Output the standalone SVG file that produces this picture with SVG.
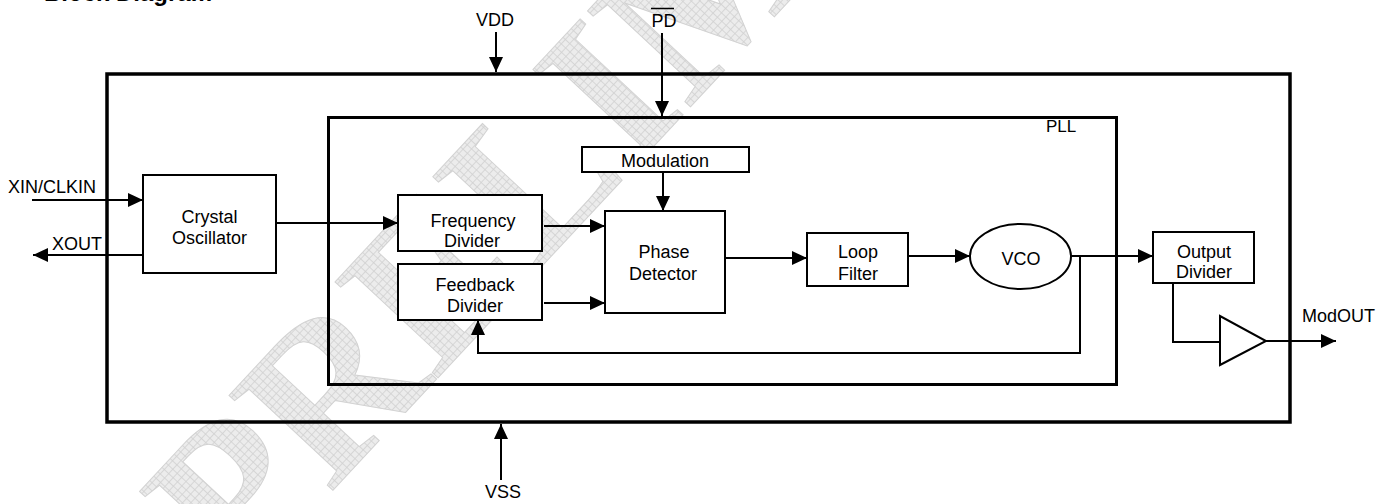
<svg xmlns="http://www.w3.org/2000/svg" width="1392" height="504" viewBox="0 0 1392 504">
<style>
text{font-family:"Liberation Sans",Arial,sans-serif;font-size:18px;fill:#000;}
.lbl{text-anchor:middle;}
.box{fill:#fff;stroke:#000;stroke-width:2;}
.frame{fill:none;stroke:#000;}
.wire{fill:none;stroke:#000;stroke-width:2;}
.wm{font-family:"Liberation Serif","Times New Roman",serif;font-weight:bold;font-size:215px;fill:url(#hatch);stroke:#d2d2d2;stroke-width:1;}
</style>
<defs>
<pattern id="hatch" width="6" height="6" patternUnits="userSpaceOnUse">
<rect width="6" height="6" fill="#ececec"/>
<path d="M0,0.5H6M0.5,0V6" stroke="#d0d0d0" stroke-width="0.8"/>
</pattern>
<marker id="arr" markerUnits="userSpaceOnUse" markerWidth="15" markerHeight="14" refX="15" refY="7" orient="auto">
<path d="M0,0L15,7L0,14z" fill="#000"/>
</marker>
</defs>
<rect width="1392" height="504" fill="#fff"/>
<text x="44" y="1" style="font-weight:bold;font-size:24px">Block Diagram</text>
<g id="watermark"><text class="wm" transform="translate(240,590) rotate(-47)">PRELIMINARY</text></g>

<g id="chip"><rect class="frame" x="107" y="74" width="1183" height="348" stroke-width="3.5"/></g>
<g id="pll"><rect class="frame" x="328.5" y="117.5" width="788" height="267" stroke-width="3"/>
<text x="1046" y="131.5" style="font-size:17px">PLL</text></g>

<g id="connectors">
<line class="wire" x1="496" y1="32" x2="496" y2="72" marker-end="url(#arr)"/>
<line class="wire" x1="662" y1="33" x2="662" y2="116" marker-end="url(#arr)"/>
<line class="wire" x1="501" y1="480" x2="501" y2="424" marker-end="url(#arr)"/>
<line class="wire" x1="32" y1="200" x2="143" y2="200" marker-end="url(#arr)"/>
<line class="wire" x1="143" y1="255" x2="33" y2="255" marker-end="url(#arr)"/>
<line class="wire" x1="276" y1="223" x2="398" y2="223" marker-end="url(#arr)"/>
<line class="wire" x1="544" y1="226" x2="605" y2="226" marker-end="url(#arr)"/>
<line class="wire" x1="544" y1="303" x2="605" y2="303" marker-end="url(#arr)"/>
<line class="wire" x1="663" y1="172" x2="663" y2="211" marker-end="url(#arr)"/>
<line class="wire" x1="725" y1="258" x2="807" y2="258" marker-end="url(#arr)"/>
<line class="wire" x1="908" y1="256" x2="970" y2="256" marker-end="url(#arr)"/>
<line class="wire" x1="1071" y1="256" x2="1153" y2="256" marker-end="url(#arr)"/>
<polyline class="wire" points="1080,256 1080,353 478,353 478,320" marker-end="url(#arr)"/>
<polyline class="wire" points="1173,283 1173,342 1220,342"/>
<line class="wire" x1="1266" y1="341" x2="1336" y2="341" marker-end="url(#arr)"/>
</g>

<g id="labels">
<text x="495" y="26" class="lbl">VDD</text>
<text x="664" y="27.3" class="lbl">PD</text>
<line x1="651" y1="8.5" x2="674" y2="8.5" stroke="#000" stroke-width="1.5"/>
<text x="503" y="498" class="lbl">VSS</text>
<text x="8" y="192.5">XIN/CLKIN</text>
<text x="52" y="250">XOUT</text>
<text x="1302" y="321.5">ModOUT</text>
</g>

<g id="crystal"><rect class="box" x="143" y="175" width="133" height="98"/>
<text x="209.5" y="223.3" class="lbl">Crystal</text><text x="209.5" y="244" class="lbl">Oscillator</text></g>
<g id="freqdiv"><rect class="box" x="398" y="195" width="144" height="56"/>
<text x="473" y="226.7" class="lbl">Frequency</text><text x="472" y="246.7" class="lbl">Divider</text></g>
<g id="fbdiv"><rect class="box" x="398" y="264" width="144" height="56"/>
<text x="475" y="291" class="lbl">Feedback</text><text x="475" y="311.7" class="lbl">Divider</text></g>
<g id="modulation"><rect class="box" x="582" y="147" width="167" height="25"/>
<text x="665" y="166.7" class="lbl">Modulation</text></g>
<g id="phasedet"><rect class="box" x="605" y="211" width="120" height="102"/>
<text x="664" y="258.3" class="lbl">Phase</text><text x="663" y="280" class="lbl">Detector</text></g>
<g id="loopfilter"><rect class="box" x="807" y="233" width="101" height="53"/>
<text x="858" y="258" class="lbl">Loop</text><text x="858" y="280" class="lbl">Filter</text></g>
<g id="vco"><ellipse class="box" cx="1020.5" cy="256.5" rx="50.5" ry="32.5"/>
<text x="1021" y="265" class="lbl">VCO</text></g>
<g id="outdiv"><rect class="box" x="1153" y="232" width="101" height="51"/>
<text x="1204" y="257.7" class="lbl">Output</text><text x="1204" y="277.7" class="lbl">Divider</text></g>
<g id="buffer"><polygon class="box" points="1220,316 1220,365 1266,341"/></g>
</svg>
